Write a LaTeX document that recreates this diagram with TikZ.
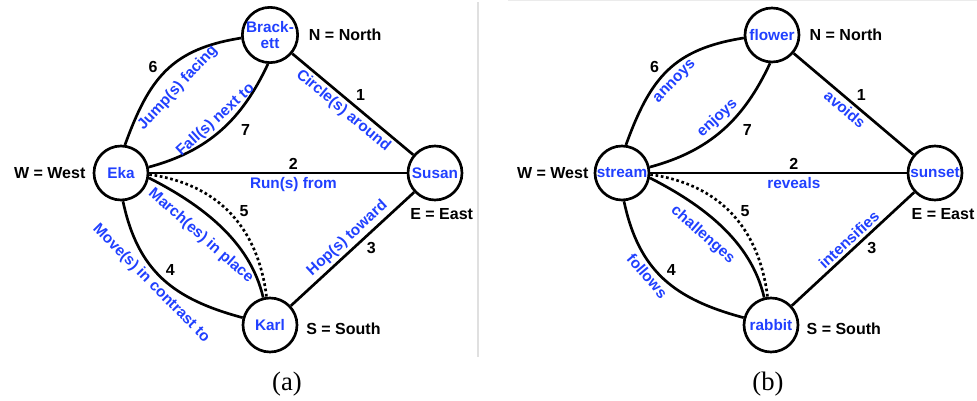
\documentclass[tikz,border=0pt]{standalone}
\usepackage{fontspec}
\setmainfont{Liberation Sans}
\newfontfamily\capfont{Liberation Serif}
\usetikzlibrary{positioning}
\definecolor{relblue}{RGB}{32,64,255}

\begin{document}
\begin{tikzpicture}[x=0.75pt, y=0.75pt, line width=2pt,
  place/.style={circle,draw,minimum size=40.5pt,inner sep=0pt,align=center,text=relblue,font=\bfseries\fontsize{11.5}{12.5}\selectfont},
  rel/.style={sloped,text=relblue,inner sep=2pt,font=\bfseries\fontsize{11.5}{13}\selectfont},
  num/.style={inner sep=1.5pt,font=\bfseries\fontsize{12}{14}\selectfont},
  compass/.style={inner sep=0pt,font=\bfseries\fontsize{12}{14}\selectfont},
  caption/.style={font=\capfont\fontsize{20}{23}\selectfont}]
\useasboundingbox (0,0) rectangle (977,400);
\draw[line width=0.8pt, black!12] (478,398) -- (478,43);
\draw[line width=0.8pt, black!8] (508,399.5) -- (977,399.5);

% (a) Eka, Brackett, Susan, Karl
\node[place] (Eka) at (121,227) {Eka};
\node[place] (Brackett) at (270,365) {Brack-\\ett};
\node[place] (Susan) at (435,227) {Susan};
\node[place] (Karl) at (270,75) {Karl};

\node[compass, right=6.5pt of Brackett] (northA) {N = North};
\node[compass, left=4.5pt of Eka] (westA) {W = West};
\node[compass, below=4.5pt of Susan, xshift=5pt] (eastA) {E = East};
\node[compass, right=5pt of Karl, yshift=-3pt] (southA) {S = South};

\draw (Brackett) -- node[rel,below,pos=0.48]{Circle(s) around} node[num,above right,pos=0.5]{1} (Susan);
\draw (Eka) -- node[num,above,pos=0.56]{2} node[rel,below,pos=0.56]{Run(s) from} (Susan);
\draw (Karl) -- node[rel,above,pos=0.52]{Hop(s) toward} node[num,below right,pos=0.59]{3} (Susan);
\draw (Eka.-86) to[out=-78,in=165,looseness=1.1] node[rel,below,pos=0.47]{Move(s) in contrast to} node[num,above right]{4} (Karl.165);
\draw (Eka.-10) to[out=-27,in=103,looseness=0.9] node[rel,below=7pt,pos=0.45]{March(es) in place} (Karl.104);
\draw[dotted] (Eka.-3) to[out=-8,in=97,looseness=1.05] node[num,above right,pos=0.55]{5} (Karl.97);
\draw (Eka.82) to[out=70,in=189,looseness=1.15] node[num,above left,pos=0.45]{6} node[rel,below=7pt,pos=0.47]{Jump(s) facing} (Brackett.186);
\draw (Eka.12) to[out=15,in=245] node[rel,above=0pt,pos=0.52]{Fall(s) next to} node[num,below right=4pt,pos=0.62]{7} (Brackett.-94);

\node[caption] (capA) at (287,16) {(a)};

% (b) stream, flower, sunset, rabbit
\node[place] (stream) at (622,227) {stream};
\node[place] (flower) at (772,365) {flower};
\node[place] (sunset) at (935,227) {sunset};
\node[place] (rabbit) at (771,75) {rabbit};

\node[compass, right=6pt of flower] (northB) {N = North};
\node[compass, left=3pt of stream] (westB) {W = West};
\node[compass, below=4.5pt of sunset, xshift=6pt] (eastB) {E = East};
\node[compass, right=4.5pt of rabbit, yshift=-3pt] (southB) {S = South};

\draw (flower) -- node[rel,below,pos=0.48]{avoids} node[num,above right,pos=0.5]{1} (sunset);
\draw (stream) -- node[num,above,pos=0.56]{2} node[rel,below,pos=0.56]{reveals} (sunset);
\draw (rabbit) -- node[rel,above,pos=0.52]{intensifies} node[num,below right,pos=0.59]{3} (sunset);
\draw (stream.-86) to[out=-78,in=165,looseness=1.1] node[rel,below,pos=0.42]{follows} node[num,above right]{4} (rabbit.165);
\draw (stream.-10) to[out=-27,in=103,looseness=0.9] node[rel,below=6pt,pos=0.45]{challenges} (rabbit.104);
\draw[dotted] (stream.-3) to[out=-8,in=97,looseness=1.05] node[num,above right,pos=0.55]{5} (rabbit.97);
\draw (stream.82) to[out=70,in=189,looseness=1.15] node[num,above left,pos=0.45]{6} node[rel,below=3pt,pos=0.48]{annoys} (flower.186);
\draw (stream.12) to[out=15,in=245] node[rel,above=1pt,pos=0.53]{enjoys} node[num,below right=4pt,pos=0.62]{7} (flower.-94);

\node[caption] (capB) at (768,16) {(b)};
\end{tikzpicture}
\end{document}
